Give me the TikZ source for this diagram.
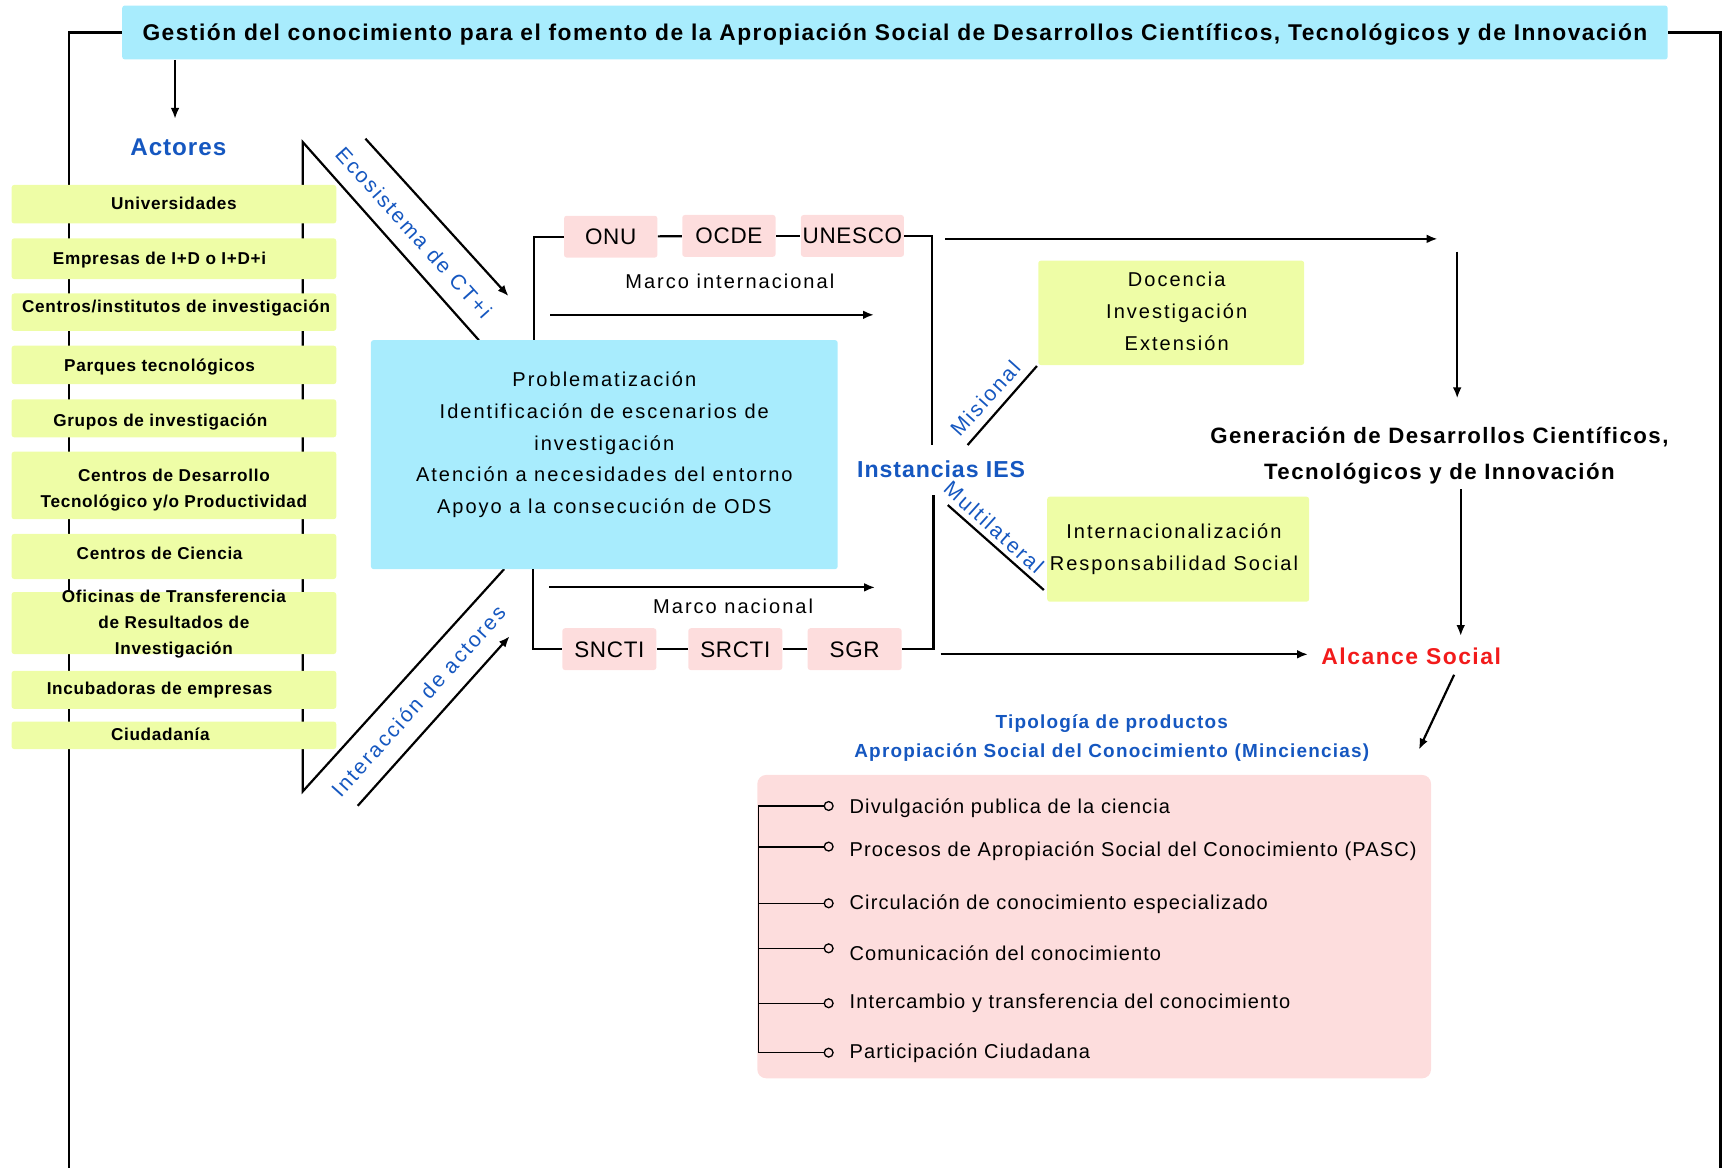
\documentclass[tikz,border=0pt]{standalone}
\usepackage{fontspec}
\setmainfont{Liberation Sans}
\newfontfamily\bodyf[LetterSpace=10]{Liberation Sans}
\newfontfamily\itemf[LetterSpace=5.5]{Liberation Sans}
\newfontfamily\orgf[LetterSpace=3]{Liberation Sans}
\newfontfamily\boldf[LetterSpace=4]{Liberation Sans}
\newfontfamily\boldw[LetterSpace=6.5]{Liberation Sans}
\usetikzlibrary{arrows.meta}
\definecolor{cyanfill}{RGB}{168,236,253}
\definecolor{ygfill}{RGB}{238,253,166}
\definecolor{pinkfill}{RGB}{253,221,221}
\definecolor{bluetxt}{RGB}{21,87,192}
\definecolor{redtxt}{RGB}{242,27,27}
\begin{document}
\begin{tikzpicture}[x=0.5pt,y=-0.5pt,
  ln/.style={line width=1pt},
  thinln/.style={line width=0.6pt},
  arr/.style={line width=1pt,-{Latex[length=5pt,width=4pt]}},
  fillbox/.style={draw=none,inner sep=0pt,rounded corners=1.2pt},
  actorbox/.style={fillbox,fill=ygfill,minimum width=147.5pt},
  actortxt/.style={font=\boldf\bfseries\fontsize{7.8}{12}\selectfont,align=center,inner sep=0pt},
  actor1/.style={actortxt,text height=5.6pt,text depth=0pt},
  body1/.style={font=\bodyf\fontsize{9.1}{14.5}\selectfont,inner sep=0pt,text height=6.5pt,text depth=0pt},
  bodym/.style={font=\bodyf\fontsize{9.1}{14.5}\selectfont,inner sep=0pt,align=center},
  orgbox/.style={fillbox,fill=pinkfill,minimum height=19pt,font=\orgf\fontsize{10.2}{12}\selectfont,text height=7.3pt,text depth=0pt},
  bluelab/.style={font=\bodyf\fontsize{9.6}{12}\selectfont,text=bluetxt,inner sep=0pt,text height=6.9pt,text depth=0pt},
  bluebold/.style={font=\boldf\bfseries\fontsize{10.5}{12}\selectfont,text=bluetxt,inner sep=0pt,text height=7.5pt,text depth=0pt},
  dot/.style={circle,draw,thinln,fill=pinkfill,inner sep=0pt,minimum size=4pt},
  item/.style={font=\itemf\fontsize{9.1}{12}\selectfont,inner sep=0pt,anchor=west,text height=6.5pt,text depth=0pt}
]
\useasboundingbox (0,0) rectangle (1568,1061);

% ---------- header and border
\node[fillbox,fill=cyanfill,minimum width=702pt,minimum height=24.5pt,
  font=\boldw\bfseries\fontsize{10.35}{12}\selectfont,text height=7.4pt,text depth=0pt] (hdr) at (813,29.5)
  {Gestión del conocimiento para el fomento de la Apropiación Social de Desarrollos Científicos, Tecnológicos y de Innovación};
\coordinate (lb) at (63,1061);
\coordinate (rb) at (1563,1061);
\draw[ln] (hdr.west) -| (lb);
\draw[ln] (hdr.east) -| (rb);
\coordinate (acttop) at (159,108);
\draw[arr] (hdr.south -| acttop) -- (acttop);

% ---------- actors
\node[bluebold,font=\boldf\bfseries\fontsize{11}{12}\selectfont,text height=7.9pt] (actores) at (162,133) {Actores};

\coordinate (c1) at (275,129);
\coordinate (c2) at (275,719);
\coordinate (e1) at (435,309);
\coordinate (e2) at (458,517);
\draw[ln] (e1) -- (c1) -- (c2) -- (e2);

\node[actorbox,minimum height=17.5pt] (b1) at (158,185.5) {};
\node[actorbox,minimum height=18.5pt] (b2) at (158,235) {};
\node[actorbox,minimum height=17pt] (b3) at (158,283.6) {};
\node[actorbox,minimum height=17.5pt] (b4) at (158,331.5) {};
\node[actorbox,minimum height=17.3pt] (b5) at (158,380) {};
\node[actorbox,minimum height=30.7pt] (b6) at (158,441) {};
\node[actorbox,minimum height=20.5pt] (b7) at (158,505.5) {};
\node[actorbox,minimum height=28.2pt] (b8) at (158,566) {};
\node[actorbox,minimum height=17.3pt] (b9) at (158,626.7) {};
\node[actorbox,minimum height=12.5pt] (b10) at (158,668) {};

\node[actor1] (t1) at (158,185) {Universidades};
\node[actor1] (t2) at (145,235) {Empresas de I+D o I+D+i};
\node[actor1] (t3) at (160,278.6) {Centros/institutos de investigación};
\node[actor1] (t4) at (145,331.6) {Parques tecnológicos};
\node[actor1] (t5) at (145.7,381.5) {Grupos de investigación};
\node[actortxt] (t6) at (158,445) {Centros de Desarrollo\\Tecnológico y/o Productividad};
\node[actor1] (t7) at (145,502.5) {Centros de Ciencia};
\node[actortxt] (t8) at (158,567) {Oficinas de Transferencia\\de Resultados de\\Investigación};
\node[actor1] (t9) at (145,625) {Incubadoras de empresas};
\node[actor1] (t10) at (145.7,667) {Ciudadanía};

% ---------- diagonal arrows
\coordinate (a1s) at (332,126);
\coordinate (a1e) at (462,269);
\draw[arr] (a1s) -- (a1e);
\coordinate (a2s) at (325,732);
\coordinate (a2e) at (463,578);
\draw[arr] (a2s) -- (a2e);
\node[bluelab,rotate=-48] (eco) at (376,211) {Ecosistema de CT+i};
\node[bluelab,rotate=48] (inter) at (380,637) {Interacción de actores};

% ---------- central box
\node[fillbox,fill=cyanfill,minimum width=212pt,minimum height=104pt] (blue) at (549,413) {};
\node[bodym] (probt) at (549,404) {Problematización\\Identificación de escenarios de\\investigación\\Atención a necesidades del entorno\\Apoyo a la consecución de ODS};

% ---------- international frame
\node[orgbox,minimum width=42.4pt] (onu) at (554.8,215) {ONU};
\node[orgbox,minimum width=42.4pt] (ocde) at (662.2,214.3) {OCDE};
\node[orgbox,minimum width=46.8pt] (unesco) at (774.4,214.3) {UNESCO};
\coordinate (tl) at (485,309);
\coordinate (tr) at (847,404);
\draw[ln] (onu.west) -| (tl);
\draw[ln] (onu) -- (ocde);
\draw[ln] (ocde) -- (unesco);
\draw[ln] (unesco.east) -| (tr);
\node[body1] (mint) at (663,256) {Marco internacional};
\coordinate (m1s) at (500,286);
\coordinate (m1e) at (794,286);
\draw[arr] (m1s) -- (m1e);

% ---------- national frame
\node[orgbox,minimum width=42.7pt] (sncti) at (553.6,589.7) {SNCTI};
\node[orgbox,minimum width=42.7pt] (srcti) at (668,589.7) {SRCTI};
\node[orgbox,minimum width=42.7pt] (sgr) at (776.4,589.7) {SGR};
\coordinate (bl) at (484,517);
\coordinate (br) at (848,450);
\draw[ln] (bl) |- (sncti.west);
\draw[ln] (sncti) -- (srcti);
\draw[ln] (srcti) -- (sgr);
\draw[ln] (sgr.east) -| (br);
\node[body1] (mnac) at (666,550.5) {Marco nacional};
\coordinate (m2s) at (499,533.6);
\coordinate (m2e) at (795,533.6);
\draw[arr] (m2s) -- (m2e);

% ---------- IES
\node[bluebold] (ies) at (855,426) {Instancias IES};
\node[fillbox,fill=ygfill,minimum width=120.8pt,minimum height=47.4pt] (doc) at (1064,284.2) {};
\node[bodym] (doct) at (1069,283) {Docencia\\Investigación\\Extensión};
\node[fillbox,fill=ygfill,minimum width=119pt,minimum height=47.7pt] (intl) at (1070.3,498.9) {};
\node[bodym] (intlt) at (1066.5,499) {Internacionalización\\Responsabilidad Social};
\coordinate (mis1) at (879,404.3);
\coordinate (mis2) at (942,332.5);
\draw[ln] (mis1) -- (mis2);
\node[bluelab,rotate=48] (misl) at (895,362) {Misional};
\coordinate (mul1) at (861,458.8);
\coordinate (mul2) at (948.3,536);
\draw[ln] (mul1) -- (mul2);
\node[bluelab,rotate=-42] (mull) at (903,479) {Multilateral};

% ---------- right column
\coordinate (ta1) at (858.5,217);
\coordinate (ta2) at (1306,217);
\draw[arr] (ta1) -- (ta2);
\coordinate (ba1) at (854.4,594.4);
\coordinate (ba2) at (1188.3,594.4);
\draw[arr] (ba1) -- (ba2);
\node[font=\boldw\bfseries\fontsize{10.1}{16}\selectfont,align=center,inner sep=0pt] (gen) at (1307.6,414) {Generación de Desarrollos Científicos,\\Tecnológicos y de Innovación};
\coordinate (va1) at (1323.8,228.6);
\coordinate (va2) at (1323.8,361.9);
\draw[arr] (va1) -- (va2);
\coordinate (vb1) at (1327,444.5);
\coordinate (vb2) at (1327,577.8);
\draw[arr] (vb1) -- (vb2);
\node[bluebold,text=redtxt,font=\boldw\bfseries\fontsize{10.4}{12}\selectfont] (alc) at (1282,596.6) {Alcance Social};
\coordinate (da1) at (1321,613);
\coordinate (da2) at (1289,681);
\draw[arr] (da1) -- (da2);

% ---------- typology
\node[font=\boldw\bfseries\fontsize{8.6}{13.5}\selectfont,text=bluetxt,align=center,inner sep=0pt] (tip) at (1010,670.5) {Tipología de productos\\Apropiación Social del Conocimiento (Minciencias)};
\node[fillbox,fill=pinkfill,rounded corners=4pt,minimum width=306pt,minimum height=137.8pt] (pink) at (994,841.8) {};

\node[dot] (d1) at (752.8,732.2) {};
\node[dot] (d2) at (752.8,769.1) {};
\node[dot] (d3) at (752.8,820.6) {};
\node[dot] (d4) at (752.8,861.5) {};
\node[dot] (d5) at (752.8,911.4) {};
\node[dot] (d6) at (752.8,956.3) {};
\coordinate (k1) at (689,732.2);
\coordinate (k6) at (689,956.3);
\draw[thinln] (k1) -- (k6);
\draw[ln] (k1) -- (d1.west);
\draw[ln] (d2.west -| k1) -- (d2.west);
\draw[thinln] (d3.west -| k1) -- (d3.west);
\draw[thinln] (d4.west -| k1) -- (d4.west);
\draw[thinln] (d5.west -| k1) -- (d5.west);
\draw[thinln] (k6) -- (d6.west);
\node[item] (i1) at (771.5,732.8) {Divulgación publica de la ciencia};
\node[item] (i2) at (771.5,771.5) {Procesos de Apropiación Social del Conocimiento (PASC)};
\node[item] (i3) at (771.5,820) {Circulación de conocimiento especializado};
\node[item] (i4) at (771.5,866) {Comunicación del conocimiento};
\node[item] (i5) at (771.5,910) {Intercambio y transferencia del conocimiento};
\node[item] (i6) at (771.5,955.5) {Participación Ciudadana};
\end{tikzpicture}
\end{document}
